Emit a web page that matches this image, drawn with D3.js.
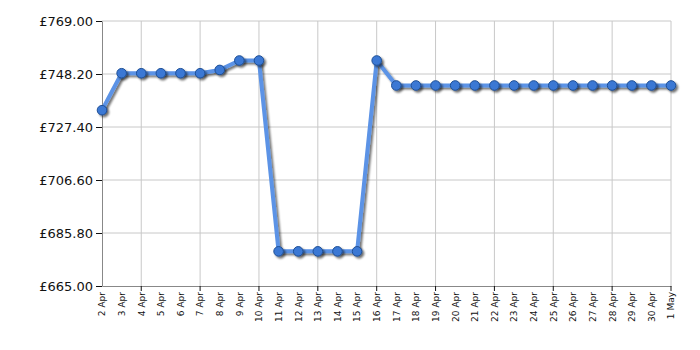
<!DOCTYPE html>
<html><head><meta charset="utf-8">
<script src="https://cdn.jsdelivr.net/npm/d3@7"></script>
<style>body{margin:0;background:#fff;} text{font-family:"DejaVu Sans",Verdana,sans-serif;}</style>
</head><body><svg id="c" width="700" height="350"></svg>
<script>
const dates = ["2 Apr","3 Apr","4 Apr","5 Apr","6 Apr","7 Apr","8 Apr","9 Apr","10 Apr","11 Apr","12 Apr","13 Apr","14 Apr","15 Apr","16 Apr","17 Apr","18 Apr","19 Apr","20 Apr","21 Apr","22 Apr","23 Apr","24 Apr","25 Apr","26 Apr","27 Apr","28 Apr","29 Apr","30 Apr","1 May"];
const prices = [734.0,748.5,748.5,748.5,748.5,748.5,749.8,753.5,753.5,678.6,678.6,678.6,678.6,678.6,753.5,743.7,743.7,743.7,743.7,743.7,743.7,743.7,743.7,743.7,743.7,743.7,743.7,743.7,743.7,743.7];
const yTicks = [665.0,685.8,706.6,727.4,748.2,769.0];
const gridDates = ["4 Apr","7 Apr","10 Apr","13 Apr","16 Apr","19 Apr","22 Apr","25 Apr","28 Apr","1 May"];

const svg = d3.select("#c");
const L=102,R=671,T=21,B=286;
const x = d3.scalePoint().domain(dates).range([L,R]);
const y = d3.scaleLinear().domain([665,769]).range([B,T]);

const defs = svg.append("defs");
const f = defs.append("filter").attr("id","sh").attr("x","-20%").attr("y","-20%").attr("width","140%").attr("height","140%");
f.append("feGaussianBlur").attr("in","SourceAlpha").attr("stdDeviation",1.2).attr("result","b");
f.append("feOffset").attr("in","b").attr("dx",2).attr("dy",2).attr("result","o");
f.append("feComponentTransfer").attr("in","o").attr("result","o2").append("feFuncA").attr("type","linear").attr("slope",0.55);
const m = f.append("feMerge"); m.append("feMergeNode").attr("in","o2"); m.append("feMergeNode").attr("in","SourceGraphic");

// grid
svg.append("g").selectAll("line").data(yTicks.slice(1)).join("line")
  .attr("x1",L).attr("x2",R).attr("y1",d=>y(d)).attr("y2",d=>y(d)).attr("stroke","#c8c8c8");
svg.append("g").selectAll("line").data(gridDates).join("line")
  .attr("x1",d=>x(d)).attr("x2",d=>x(d)).attr("y1",T).attr("y2",B).attr("stroke","#c8c8c8");

// y axis
const ya = svg.append("g").attr("transform",`translate(${L},0)`)
  .call(d3.axisLeft(y).tickValues(yTicks).tickFormat(d=>"£"+d3.format(".2f")(d)).tickSize(6).tickSizeOuter(0));
ya.select(".domain").attr("stroke","#888");
ya.selectAll(".tick line").attr("stroke","#111");
ya.selectAll("text").attr("font-size",13).attr("fill","#111").attr("x",-9);

// x axis
const xa = svg.append("g").attr("transform",`translate(0,${B})`)
  .call(d3.axisBottom(x).tickSize(0).tickSizeOuter(0));
xa.select(".domain").attr("stroke","#888");
xa.selectAll(".tick line").remove();
xa.selectAll("text").attr("font-size",9).attr("fill","#111")
  .attr("transform","rotate(-90)").attr("x",-6).attr("y",0).attr("dy","0.32em").attr("text-anchor","end");
svg.append("g").selectAll("line").data(gridDates).join("line")
  .attr("x1",d=>x(d)).attr("x2",d=>x(d)).attr("y1",B).attr("y2",B+5).attr("stroke","#111");

// line
const line = d3.line().x((d,i)=>x(dates[i])).y(d=>y(d));
svg.append("path").datum(prices).attr("d",line).attr("fill","none")
  .attr("stroke","#5b93e6").attr("stroke-width",4).attr("stroke-linejoin","round").attr("filter","url(#sh)");
svg.append("g").attr("filter","url(#sh)").selectAll("circle").data(prices).join("circle")
  .attr("cx",(d,i)=>x(dates[i])).attr("cy",d=>y(d)).attr("r",4.8)
  .attr("fill","#3b78d4").attr("stroke","#1f4f95").attr("stroke-width",1);
</script></body></html>
